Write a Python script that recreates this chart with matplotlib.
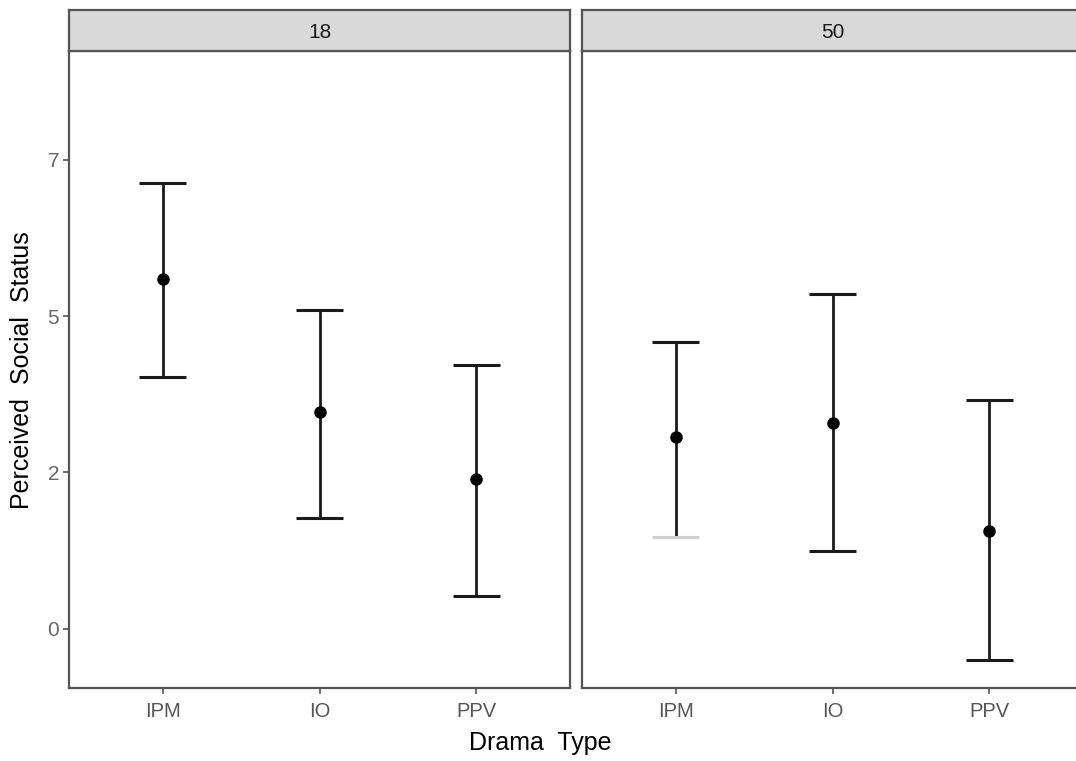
import matplotlib.pyplot as plt
from matplotlib.patches import Rectangle

plt.rcParams['font.family'] = ['Liberation Sans', 'DejaVu Sans']

# data
drama_types = ['IPM', 'IO', 'PPV']
panels = ['18', '50']
means = {'18': [5.59, 3.46, 2.39], '50': [3.06, 3.29, 1.56]}
upper = {'18': [7.13, 5.09, 4.21], '50': [4.59, 5.35, 3.65]}
lower = {'18': [4.02, 1.77, 0.52], '50': [1.47, 1.24, -0.50]}
y_ticks = [0, 2.5, 5, 7.5]
y_tick_labels = ['0', '2', '5', '7']

W, H = 1076, 761
fig = plt.figure(figsize=(W / 100, H / 100), dpi=100)

def px_axes(left, top, right, bottom):
    return fig.add_axes([left / W, 1 - bottom / H, (right - left) / W, (bottom - top) / H])

edge = '#555555'
panel_x = [(69, 570), (582, 1083)]

for i, p in enumerate(panels):
    l, r = panel_x[i]
    ax = px_axes(l, 51, r, 688)
    x = list(range(1, len(drama_types) + 1))
    ax.vlines(x, lower[p], upper[p], color='#1a1a1a', lw=2, zorder=2)
    cap_cols = ['#1a1a1a'] * 3
    lo_cols = list(cap_cols)
    if p == '50':
        lo_cols[0] = '#cfcfcf'
    ax.hlines(upper[p], [v - 0.15 for v in x], [v + 0.15 for v in x], color=cap_cols, lw=2.2, zorder=2)
    ax.hlines(lower[p], [v - 0.15 for v in x], [v + 0.15 for v in x], color=lo_cols, lw=2.2, zorder=2)
    ax.plot(x, means[p], 'o', color='black', ms=8, zorder=3)

    ax.set_xlim(0.4, 3.6)
    ax.set_ylim(-0.95, 9.24)
    ax.set_xticks(x)
    ax.set_xticklabels(drama_types, fontsize=14.5, color='#555555')
    ax.set_yticks(y_ticks)
    if i == 0:
        ax.set_yticklabels(y_tick_labels, fontsize=15, color='#666666')
        ax.tick_params(axis='y', length=4, width=1.2, color=edge, pad=3)
    else:
        ax.tick_params(axis='y', left=False, labelleft=False)
    ax.tick_params(axis='x', length=4, width=1.2, color=edge, pad=6)
    for s in ax.spines.values():
        s.set_color(edge)
        s.set_linewidth(1.6)
    if i == 1:
        ax.spines['right'].set_visible(False)

    # facet strip
    sax = px_axes(l, 10, r, 51)
    sax.set_xlim(0, 1)
    sax.set_ylim(0, 1)
    sax.add_patch(Rectangle((0, 0), 1, 1, facecolor='#d9d9d9', edgecolor='none'))
    sax.set_xticks([])
    sax.set_yticks([])
    for s in sax.spines.values():
        s.set_color(edge)
        s.set_linewidth(1.6)
    if i == 1:
        sax.spines['right'].set_visible(False)
    sax.text(0.5, 0.45, p, ha='center', va='center', fontsize=15, color='#1a1a1a')

fig.text(540 / W, 1 - 743 / H, 'Drama  Type', ha='center', va='center', fontsize=18)
fig.text(22 / W, 1 - 370 / H, 'Perceived  Social  Status', ha='center', va='center',
         rotation=90, fontsize=18)

fig.savefig('out.png', dpi=100)
